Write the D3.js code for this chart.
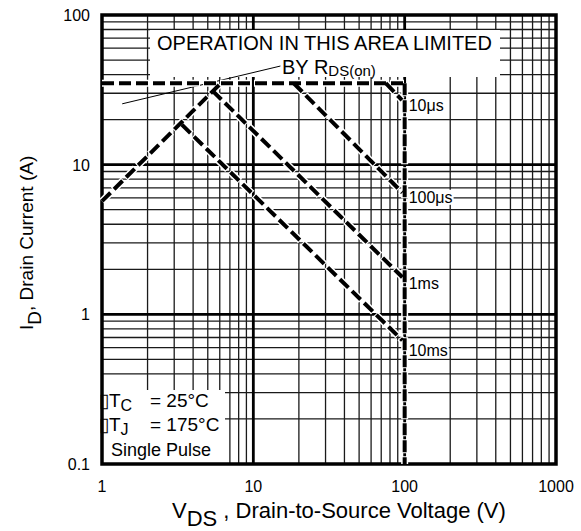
<!DOCTYPE html>
<html>
<head>
<meta charset="utf-8">
<script src="https://cdn.jsdelivr.net/npm/d3@7"></script>
<style>
  body { margin: 0; background: #fff; }
  text { font-family: "Liberation Sans", Arial, Helvetica, sans-serif; fill: #000; }
</style>
</head>
<body>
<div id="chart"></div>
<script>
// axis ticks
const xTicks = [1, 10, 100, 1000];
const yTicks = [0.1, 1, 10, 100];
const xTickLabels = ["1", "10", "100", "1000"];
const yTickLabels = ["0.1", "1", "10", "100"];

// envelope: current limit and voltage limit
const currentLimit = [[1, 35], [100, 35]];
const voltageLimit = [[100, 35], [100, 0.1]];
// RDS(on) limit line
const rdsLine = [[1, 5.7], [6.1, 35]];
// pulse width lines
const pulseNames = ["10μs", "100μs", "1ms", "10ms"];
const pulseLines = [
  [[75, 35], [96, 27]],
  [[18.5, 35], [96.6, 6.5]],
  [[5.4, 31], [96.6, 1.77]],
  [[3.37, 18.5], [96.6, 0.67]]
];
const pulseLabelY = [25, 6.1, 1.61, 0.575];
// leader line for the RDS(on) note
const leader = [[1.36, 25.5], [15.1, 45.6]];
const legendLines = ["T_C = 25°C", "T_J = 175°C", "Single Pulse"];

const W = 581, H = 531;
const margin = { top: 15, right: 25, bottom: 67, left: 102 };
const iw = W - margin.left - margin.right;
const ih = H - margin.top - margin.bottom;

const x = d3.scaleLog().domain([1, 1000]).range([0, iw]);
const y = d3.scaleLog().domain([0.1, 100]).range([ih, 0]);

const svg = d3.select("#chart").append("svg")
  .attr("width", W).attr("height", H);
const g = svg.append("g")
  .attr("transform", "translate(" + margin.left + "," + margin.top + ")");

// minor and major grid values
function gridVals(lo, hi) {
  let out = [];
  for (let p = lo; p < hi; p *= 10)
    for (let k = 2; k <= 9; k++) out.push(p * k);
  return out;
}
const xMinor = gridVals(1, 1000), yMinor = gridVals(0.1, 100);

g.selectAll(".vminor").data(xMinor).enter().append("line")
  .attr("x1", d => x(d)).attr("x2", d => x(d))
  .attr("y1", 0).attr("y2", ih)
  .attr("stroke", "#1a1a1a").attr("stroke-width", 1.3);
g.selectAll(".hminor").data(yMinor).enter().append("line")
  .attr("y1", d => y(d)).attr("y2", d => y(d))
  .attr("x1", 0).attr("x2", iw)
  .attr("stroke", "#1a1a1a").attr("stroke-width", 1.3);
g.selectAll(".vmajor").data(xTicks.slice(1, -1)).enter().append("line")
  .attr("x1", d => x(d)).attr("x2", d => x(d))
  .attr("y1", 0).attr("y2", ih)
  .attr("stroke", "#000").attr("stroke-width", 2.8);
g.selectAll(".hmajor").data(yTicks.slice(1, -1)).enter().append("line")
  .attr("y1", d => y(d)).attr("y2", d => y(d))
  .attr("x1", 0).attr("x2", iw)
  .attr("stroke", "#000").attr("stroke-width", 2.8);

// white boxes for notes
g.append("rect").attr("x", 48).attr("y", 15).attr("width", 350).attr("height", 47)
  .attr("fill", "#fff");
g.append("rect").attr("x", 1).attr("y", 375).attr("width", 122).attr("height", 73)
  .attr("fill", "#fff");

// border
g.append("rect").attr("width", iw).attr("height", ih)
  .attr("fill", "none").attr("stroke", "#000").attr("stroke-width", 3.5);

// tick labels
g.selectAll(".xl").data(xTicks).enter().append("text")
  .attr("x", d => x(d)).attr("y", ih + 28)
  .attr("text-anchor", "middle").style("font-size", "16px")
  .text((d, i) => xTickLabels[i]);
g.selectAll(".yl").data(yTicks).enter().append("text")
  .attr("x", -12).attr("y", d => y(d) + 6)
  .attr("text-anchor", "end").style("font-size", "16px")
  .text((d, i) => yTickLabels[i]);

// leader line
const line = d3.line().x(d => x(d[0])).y(d => y(d[1]));
g.append("path").attr("d", line(leader))
  .attr("fill", "none").attr("stroke", "#000").attr("stroke-width", 1);

// note text
g.append("text").attr("x", 55).attr("y", 34.5).style("font-size", "20px")
  .text("OPERATION IN THIS AREA LIMITED");
const by = g.append("text").attr("x", 180).attr("y", 58.5).style("font-size", "20px");
by.append("tspan").text("BY R");
by.append("tspan").style("font-size", "15px").attr("dy", 2).text("DS(on)");

// dashed SOA lines
const allLines = [currentLimit, voltageLimit, rdsLine].concat(pulseLines);
g.selectAll(".halo").data(allLines).enter().append("path")
  .attr("d", line).attr("fill", "none")
  .attr("stroke", "#fff").attr("stroke-width", 7)
  .attr("stroke-dasharray", "14,3").attr("stroke-dashoffset", 1);
g.selectAll(".dash").data(allLines).enter().append("path")
  .attr("d", line).attr("fill", "none")
  .attr("stroke", "#000").attr("stroke-width", 4)
  .attr("stroke-dasharray", "12,5");

// pulse labels with white background
pulseNames.forEach((name, i) => {
  const t = g.append("text")
    .attr("x", x(100) + 4).attr("y", y(pulseLabelY[i]) + 6)
    .style("font-size", "16px").text(name);
  const b = t.node().getBBox();
  g.insert("rect", function() { return t.node(); })
    .attr("x", b.x - 1).attr("y", b.y + 1).attr("width", b.width + 2).attr("height", b.height - 2)
    .attr("fill", "#fff");
});

// legend
const legendY = [392, 416, 441];
legendLines.forEach((s, i) => {
  const t = g.append("text").attr("y", legendY[i]).style("font-size", "19px");
  if (s.indexOf("_") >= 0) {
    const parts = s.split(" = ");
    t.attr("x", -3);
    t.append("tspan").text("▯T");
    t.append("tspan").attr("dy", 4).style("font-size", "16px").text(parts[0].split("_")[1]);
    t.append("tspan").attr("dy", -4).attr("x", 48).text("= " + parts[1]);
  } else {
    t.attr("x", 9).style("font-size", "18px").text(s);
  }
});

// axis titles
const xt = svg.append("text").attr("x", 172).attr("y", 518).style("font-size", "22px");
xt.append("tspan").text("V");
xt.append("tspan").attr("dy", 8).text("DS");
xt.append("tspan").attr("dy", -8).text(" , Drain-to-Source Voltage (V)");

const yt = svg.append("text")
  .attr("transform", "translate(33," + 330 + ") rotate(-90)")
  .style("font-size", "19px");
yt.append("tspan").text("I");
yt.append("tspan").attr("dy", 8).text("D");
yt.append("tspan").attr("dy", -8).text(", Drain Current (A)");
</script>
</body>
</html>
